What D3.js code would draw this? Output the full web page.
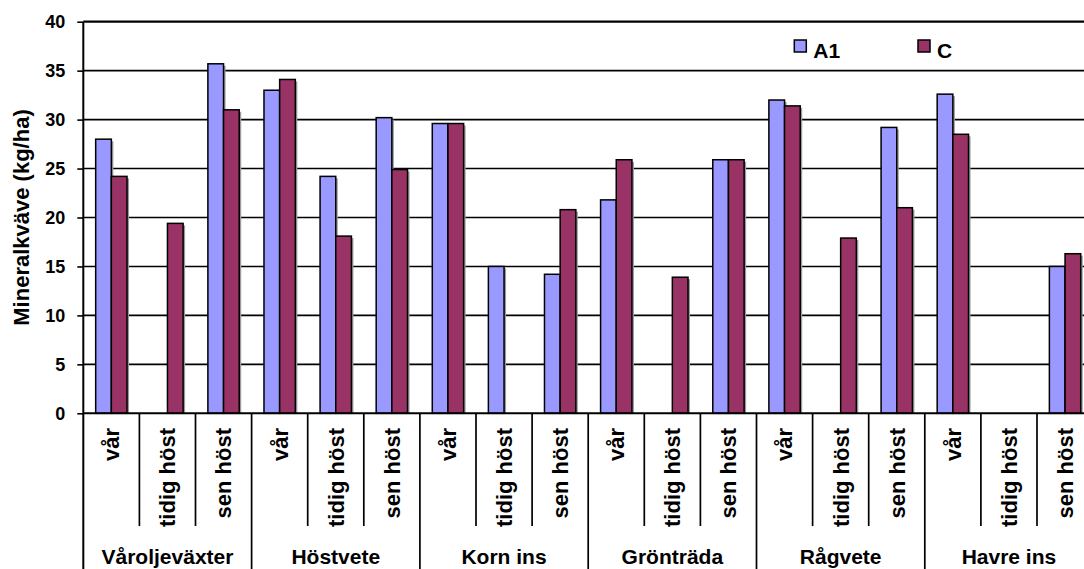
<!DOCTYPE html>
<html>
<head>
<meta charset="utf-8">
<script src="https://cdn.jsdelivr.net/npm/d3@7"></script>
<style>
  html, body { margin: 0; padding: 0; background: #fff; }
  svg { display: block; font-family: "Liberation Sans", Arial, sans-serif; font-weight: bold; }
</style>
</head>
<body>
<svg id="chart" width="1084" height="569"></svg>
<script>
// Crop groups and sampling times
const groups = ["Våroljeväxter", "Höstvete", "Korn ins", "Grönträda", "Rågvete", "Havre ins"];
const times = ["vår", "tidig höst", "sen höst"];
const seriesNames = ["A1", "C"];
const seriesColors = ["#9999FF", "#993366"];

// Mineral nitrogen (kg/ha), one value per group × time; null = no bar
const valuesA1 = [
  28.0, null, 35.7,
  33.0, 24.2, 30.2,
  29.6, 15.0, 14.2,
  21.8, null, 25.9,
  32.0, null, 29.2,
  32.6, null, 15.0
];
const valuesC = [
  24.2, 19.4, 31.0,
  34.1, 18.1, 24.9,
  29.6, null, 20.8,
  25.9, 13.9, 25.9,
  31.4, 17.9, 21.0,
  28.5, null, 16.3
];
const yTicks = [0, 5, 10, 15, 20, 25, 30, 35, 40];

const svg = d3.select("#chart");
const plotLeft = 83.3, plotTop = 21.7, plotBottom = 413.3;
const catStep = 56.1;
const plotRight = plotLeft + catStep * groups.length * times.length;

const cats = [];
groups.forEach((g, gi) => times.forEach((t, ti) => cats.push({ key: gi * times.length + ti, group: g, time: t })));

const x0 = d3.scaleBand().domain(cats.map(c => c.key)).range([plotLeft, plotRight]).padding(0);
const x1 = d3.scaleBand().domain(seriesNames).range([0, x0.bandwidth()]).paddingInner(0).paddingOuter(0.79);
const y = d3.scaleLinear().domain([0, 40]).range([plotBottom, plotTop]);

// Horizontal gridlines
svg.append("g").selectAll("line").data(yTicks.filter(v => v > 0)).join("line")
  .attr("x1", plotLeft).attr("x2", plotRight)
  .attr("y1", d => y(d)).attr("y2", d => y(d))
  .attr("stroke", "#000").attr("stroke-width", d => d === 40 ? 2.2 : 1.6);

// Bars with a light drop shadow
const barData = [];
cats.forEach((c, i) => {
  [valuesA1[i], valuesC[i]].forEach((v, si) => {
    if (v !== null) barData.push({ key: c.key, s: seriesNames[si], color: seriesColors[si], v });
  });
});
const bars = svg.append("g");
bars.selectAll("rect.shadow").data(barData).join("rect")
  .attr("class", "shadow")
  .attr("x", d => x0(d.key) + x1(d.s) + 2)
  .attr("y", d => y(d.v) + 2)
  .attr("width", x1.bandwidth())
  .attr("height", d => y(0) - y(d.v) - 2)
  .attr("fill", "#9a9a9a");
bars.selectAll("rect.bar").data(barData).join("rect")
  .attr("class", "bar")
  .attr("x", d => x0(d.key) + x1(d.s))
  .attr("y", d => y(d.v))
  .attr("width", x1.bandwidth())
  .attr("height", d => y(0) - y(d.v))
  .attr("fill", d => d.color)
  .attr("stroke", "#000").attr("stroke-width", 1.5);

// Y axis with outward ticks
const yAxis = svg.append("g").attr("transform", `translate(${plotLeft},0)`)
  .call(d3.axisLeft(y).tickValues(yTicks).tickSize(6).tickPadding(12).tickFormat(d3.format("d")));
yAxis.select(".domain").remove();
yAxis.selectAll(".tick line").attr("stroke", "#000").attr("stroke-width", 1.6);
yAxis.selectAll(".tick text").attr("font-size", 18).attr("font-weight", "bold")
  .attr("font-family", "Liberation Sans, Arial, sans-serif").attr("fill", "#000");

// Left axis line, continuing down through the category area
svg.append("line").attr("x1", plotLeft).attr("x2", plotLeft).attr("y1", plotTop).attr("y2", 569)
  .attr("stroke", "#000").attr("stroke-width", 2);
// Zero line
svg.append("line").attr("x1", plotLeft).attr("x2", plotRight).attr("y1", y(0)).attr("y2", y(0))
  .attr("stroke", "#000").attr("stroke-width", 2);

// Category separators: short within a group, full height between groups
const seps = cats.slice(1).map(c => ({ x: x0(c.key), major: c.key % times.length === 0 }));
svg.append("g").selectAll("line").data(seps).join("line")
  .attr("x1", d => d.x).attr("x2", d => d.x)
  .attr("y1", y(0)).attr("y2", d => d.major ? 569 : 526)
  .attr("stroke", "#000").attr("stroke-width", 1.7);

// Rotated time labels
svg.append("g").selectAll("text").data(cats).join("text")
  .attr("transform", d => `translate(${x0(d.key) + x0.bandwidth() / 2},428) rotate(-90)`)
  .attr("text-anchor", "end").attr("dy", "0.36em")
  .attr("font-size", 22).text(d => d.time);

// Group labels
svg.append("g").selectAll("text").data(groups).join("text")
  .attr("x", (g, gi) => x0(gi * times.length) + x0.bandwidth() * times.length / 2)
  .attr("y", 564)
  .attr("text-anchor", "middle").attr("font-size", 21).text(g => g);

// Y axis title
svg.append("text")
  .attr("transform", `translate(21,${(plotTop + plotBottom) / 2}) rotate(-90)`)
  .attr("text-anchor", "middle").attr("dy", "0.36em")
  .attr("font-size", 22).text("Mineralkväve (kg/ha)");

// Legend
const legendX = [794.3, 918];
const legend = svg.append("g").selectAll("g").data(seriesNames).join("g")
  .attr("transform", (d, i) => `translate(${legendX[i]},40)`);
legend.append("rect").attr("width", 12).attr("height", 12)
  .attr("fill", (d, i) => seriesColors[i]).attr("stroke", "#000").attr("stroke-width", 1.5);
legend.append("text").attr("x", 19).attr("y", 18).attr("font-size", 21).text(d => d);
</script>
</body>
</html>
